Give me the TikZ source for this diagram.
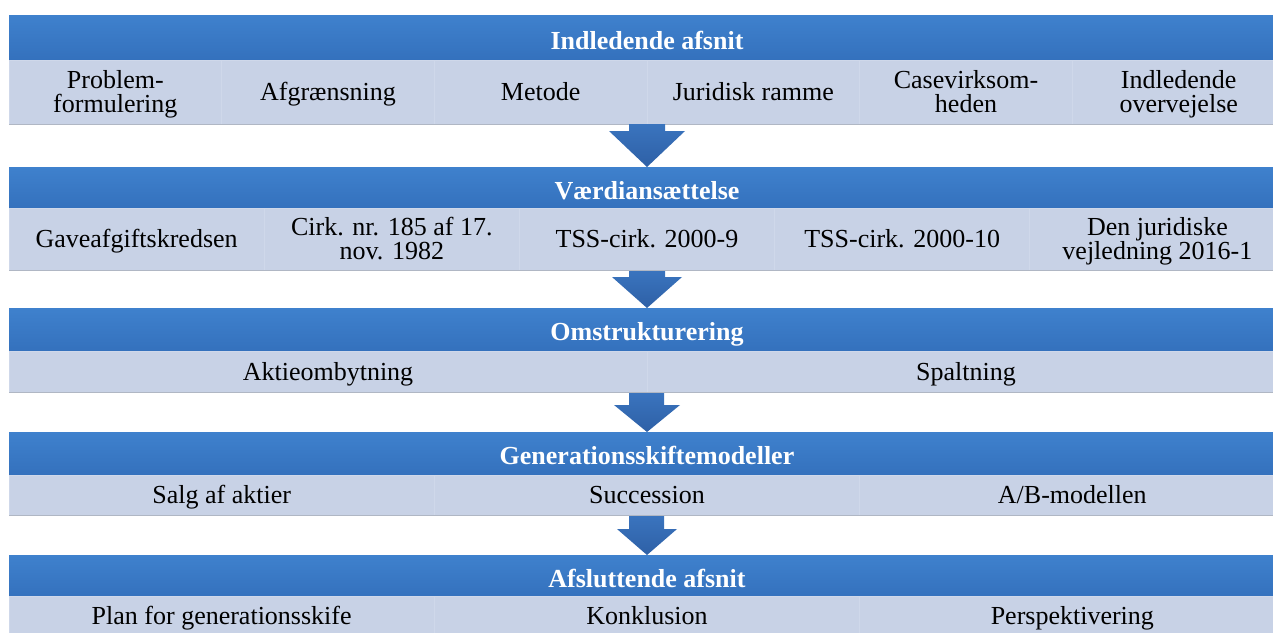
\documentclass[tikz,border=0pt]{standalone}
\usepackage{fontspec}
\setmainfont{Liberation Serif}
\usetikzlibrary{calc}
\definecolor{bandtop}{HTML}{3F81CD}
\definecolor{bandbot}{HTML}{3471BD}
\definecolor{cellfill}{HTML}{C8D2E6}
\definecolor{celledge}{HTML}{CFD8EA}
\definecolor{shadowc}{HTML}{B0B7C4}
\definecolor{arrtop}{HTML}{3A74BE}
\definecolor{arrbot}{HTML}{2E60A6}
\newcommand\hs{\rule{0pt}{18.5pt}}
\newcommand\ds{\rule[-5.3pt]{0pt}{5.3pt}}
\tikzset{
  band/.style={rectangle, inner sep=0pt, top color=bandtop, bottom color=bandbot,
    minimum width=957pt, minimum height=#1*0.75pt},
  cellbox/.style={rectangle, inner sep=0pt, fill=cellfill, draw=celledge, line width=0.6pt,
    text=black, align=center, font=\fontsize{19.5}{18}\selectfont},
  bandtext/.style={inner sep=0pt, text=white, font=\fontsize{19.5}{18}\selectfont\bfseries},
  arrowfill/.style={top color=arrtop, bottom color=arrbot, draw=none},
  shadowline/.style={draw=shadowc, line width=1.2pt}
}
\begin{document}
\begin{tikzpicture}[x=0.75pt,y=-0.75pt]
\path[use as bounding box, fill=white] (0,0) rectangle (1273,632);
\clip (0,0) rectangle (1273,632);

% ---------- Row 1 ----------
\node[band=45] (b1) at (647,37.5) {};
\node[bandtext] (h1) at (647,41) {\hs Indledende afsnit\ds};
\foreach \i/\t in {0/{\hs Problem-\\formulering\ds},1/{\hs Afgrænsning\ds},2/{\hs Metode\ds},3/{\hs Juridisk ramme\ds},4/{\hs Casevirksom-\\heden\ds},5/{\hs Indledende\\overvejelse\ds}}{
  \node[cellbox, minimum width=212.67*0.75pt, minimum height=64*0.75pt] (r1c\i) at ({9+106.33+212.67*\i},92) {\t};
}
\draw[shadowline] (9,124.5) -- (1285,124.5);

% ---------- Row 2 ----------
\node[band=41] (b2) at (647,187.5) {};
\node[bandtext] (h2) at (647,191) {\hs Værdiansættelse\ds};
\foreach \i/\t in {0/{\hs Gaveafgiftskredsen\ds},1/{\hs Cirk. nr. 185 af 17.\\nov. 1982\ds},2/{\hs TSS-cirk. 2000-9\ds},3/{\hs TSS-cirk. 2000-10\ds},4/{\hs Den juridiske\\vejledning 2016-1\ds}}{
  \node[cellbox, minimum width=255.2*0.75pt, minimum height=62*0.75pt] (r2c\i) at ({9+127.6+255.2*\i},239) {\t};
}
\draw[shadowline] (9,270.5) -- (1285,270.5);

% ---------- Row 3 ----------
\node[band=43] (b3) at (647,329.5) {};
\node[bandtext] (h3) at (647,332) {\hs Omstrukturering\ds};
\foreach \i/\t in {0/{\hs Aktieombytning\ds},1/{\hs Spaltning\ds}}{
  \node[cellbox, minimum width=638*0.75pt, minimum height=41*0.75pt] (r3c\i) at ({9+319+638*\i},371.5) {\t};
}
\draw[shadowline] (9,392.5) -- (1285,392.5);

% ---------- Row 4 ----------
\node[band=43] (b4) at (647,453.5) {};
\node[bandtext] (h4) at (647,456) {\hs Generationsskiftemodeller\ds};
\foreach \i/\t in {0/{\hs Salg af aktier\ds},1/{\hs Succession\ds},2/{\hs A/B-modellen\ds}}{
  \node[cellbox, minimum width=425.33*0.75pt, minimum height=40*0.75pt] (r4c\i) at ({9+212.67+425.33*\i},495) {\t};
}
\draw[shadowline] (9,515.5) -- (1285,515.5);

% ---------- Row 5 ----------
\node[band=42] (b5) at (647,576) {};
\node[bandtext] (h5) at (647,579) {\hs Afsluttende afsnit\ds};
\foreach \i/\t in {0/{\hs Plan for generationsskife\ds},1/{\hs Konklusion\ds},2/{\hs Perspektivering\ds}}{
  \node[cellbox, minimum width=425.33*0.75pt, minimum height=40*0.75pt] (r5c\i) at ({9+212.67+425.33*\i},616) {\t};
}

% ---------- Arrows ----------
\path[arrowfill] (629,124) -- (665,124) -- (665,131) -- (685,131) -- (647,167) -- (609,131) -- (629,131) -- cycle;
\path[arrowfill] (629,271) -- (665,271) -- (665,277) -- (682,277) -- (647,308) -- (612,277) -- (629,277) -- cycle;
\path[arrowfill] (629,393) -- (664,393) -- (664,405) -- (680,405) -- (647,432) -- (614,405) -- (629,405) -- cycle;
\path[arrowfill] (629,516) -- (664,516) -- (664,529) -- (677,529) -- (647,555) -- (617,529) -- (629,529) -- cycle;
\end{tikzpicture}
\end{document}
